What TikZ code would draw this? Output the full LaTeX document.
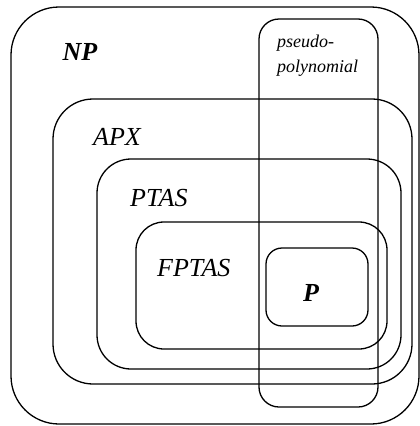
\documentclass[tikz,border=0pt]{standalone}
\usepackage{fontspec}
\setmainfont{Liberation Serif}
\begin{document}
\begin{tikzpicture}[x=1pt,y=-1pt,
  setbox/.style={draw=black, line width=1.3pt},
  biglabel/.style={font=\fontsize{26}{28}\selectfont\itshape, anchor=west, inner sep=0pt},
  boldlabel/.style={font=\fontsize{26}{28}\selectfont\bfseries\itshape, inner sep=0pt},
  smalllabel/.style={font=\fontsize{18}{20}\selectfont\itshape, anchor=west, inner sep=0pt}]
\useasboundingbox (0,0) rectangle (420,426);
\draw[setbox, rounded corners=48] (11,7) rectangle (419,424);
\draw[setbox, rounded corners=40] (53,99) rectangle (412,384);
\draw[setbox, rounded corners=34] (97,159) rectangle (401,369);
\draw[setbox, rounded corners=28] (136,222) rectangle (387,349);
\draw[setbox, rounded corners=16] (266,248) rectangle (368,326);
\draw[setbox, rounded corners=20] (259,19) rectangle (378,407);
\node[boldlabel] (np) at (80,52) {NP};
\node[biglabel] (apx) at (93,137) {APX};
\node[biglabel] (ptas) at (130,198) {PTAS};
\node[biglabel] (fptas) at (157,268) {FPTAS};
\node[boldlabel] (p) at (311,293) {P};
\node[smalllabel] (pseudo) at (277,43) {pseudo-};
\node[smalllabel] (poly) at (277,68) {polynomial};
\end{tikzpicture}
\end{document}
